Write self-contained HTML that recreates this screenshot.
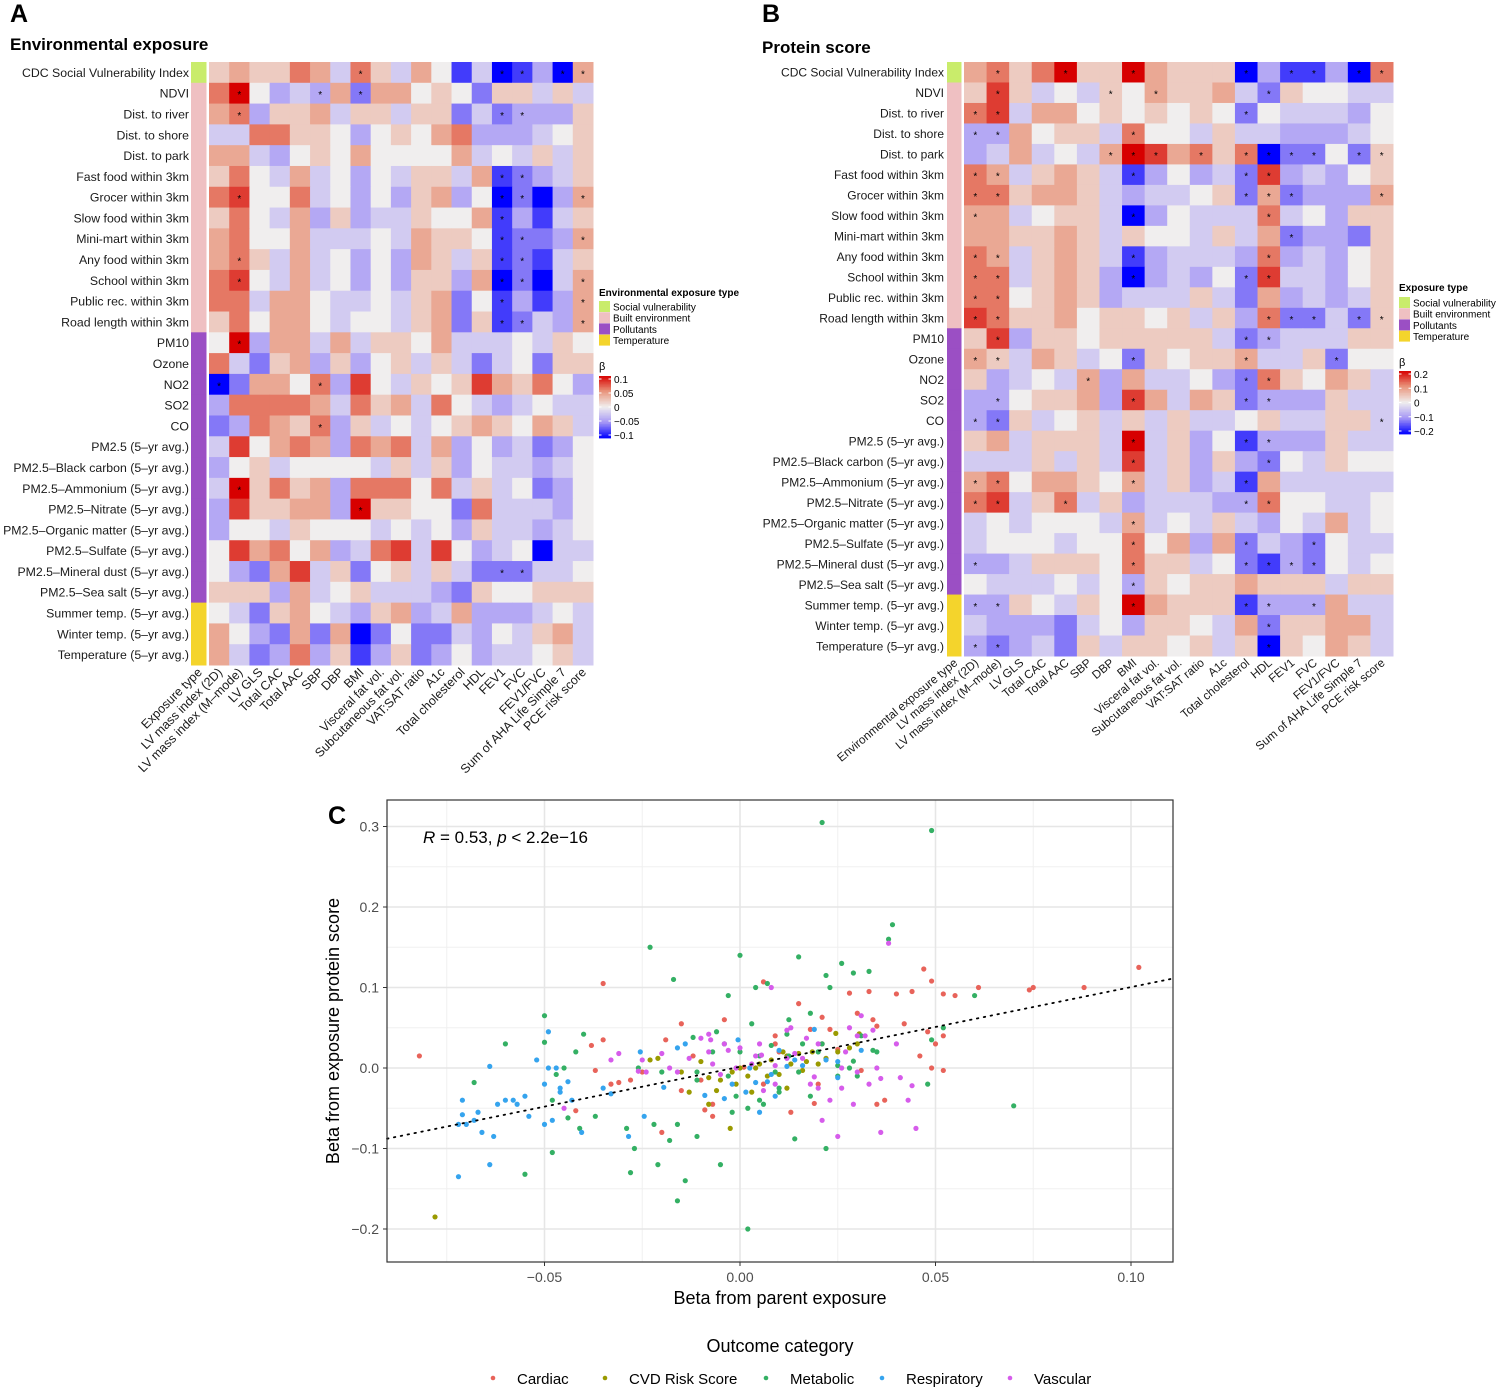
<!DOCTYPE html>
<html><head><meta charset="utf-8">
<style>
html,body{margin:0;padding:0;background:#fff;}
svg{display:block;font-family:"Liberation Sans",Arial,sans-serif;}
</style></head>
<body>
<svg id="fig" width="1500" height="1388" viewBox="0 0 1500 1388" xmlns="http://www.w3.org/2000/svg">
<text x="10" y="22" font-size="25" font-weight="bold">A</text>
<text x="10" y="50" font-size="17" font-weight="bold">Environmental exposure</text>
<text x="762" y="22" font-size="25" font-weight="bold">B</text>
<text x="762" y="53" font-size="17" font-weight="bold">Protein score</text>
<text x="328" y="824" font-size="25" font-weight="bold">C</text>
<g id="gA"></g>
<g id="gB"></g>
<g id="gC"></g>
</svg>
<script>
const rowLabels=["CDC Social Vulnerability Index","NDVI","Dist. to river","Dist. to shore","Dist. to park","Fast food within 3km","Grocer within 3km","Slow food within 3km","Mini-mart within 3km","Any food within 3km","School within 3km","Public rec. within 3km","Road length within 3km","PM10","Ozone","NO2","SO2","CO","PM2.5 (5\u2013yr avg.)","PM2.5\u2013Black carbon (5\u2013yr avg.)","PM2.5\u2013Ammonium (5\u2013yr avg.)","PM2.5\u2013Nitrate (5\u2013yr avg.)","PM2.5\u2013Organic matter (5\u2013yr avg.)","PM2.5\u2013Sulfate (5\u2013yr avg.)","PM2.5\u2013Mineral dust (5\u2013yr avg.)","PM2.5\u2013Sea salt (5\u2013yr avg.)","Summer temp. (5\u2013yr avg.)","Winter temp. (5\u2013yr avg.)","Temperature (5\u2013yr avg.)"];
const rowTypes=[0,1,1,1,1,1,1,1,1,1,1,1,1,2,2,2,2,2,2,2,2,2,2,2,2,2,3,3,3];
const colLabels=["LV mass index (2D)","LV mass index (M\u2013mode)","LV GLS","Total CAC","Total AAC","SBP","DBP","BMI","Visceral fat vol.","Subcutaneous fat vol.","VAT:SAT ratio","A1c","Total cholesterol","HDL","FEV1","FVC","FEV1/FVC","Sum of AHA Life Simple 7","PCE risk score"];
const typeNames=["Social vulnerability","Built environment","Pollutants","Temperature"];
const typeColors=["#c9ec6b","#efc0c2","#9b4fc4","#f4d42c"];
// effect levels (beta = level * step); "*" marks significance
const levelsA=[
"1 2 1 1 3 2 -1 3* 1 -1 2 0 -4 -1 -5* -4* -2 -5* 2*",
"3 5* 0 -2 -1 -2* 2 -3* 2 2 0 1 0 -3 1 1 -1 1 -1",
"2 3* -2 1 1 2 -1 1 1 -1 1 1 -3 -1 -3* -2* -2 -2 1",
"-1 -1 3 3 1 1 0 -2 0 1 0 2 3 -2 -2 -2 -1 0 1",
"2 2 -1 -2 0 1 0 2 0 0 0 0 2 -1 0 -1 1 -1 1",
"1 3 0 -1 2 -1 0 -2 0 -1 1 1 -1 2 -4* -3* -2 -1 1",
"3 4* 0 0 3 -1 0 -2 0 -2 1 2 -2 0 -5* -3* -5 -2 2*",
"1 3 0 -1 2 -2 1 -2 -1 -1 1 0 0 2 -4* -2 -4 -1 1",
"2 3 0 0 2 -1 -1 -1 0 -1 2 1 1 0 -4* -3* -3 -2 2*",
"2 3* 1 -1 2 -1 0 -2 0 -2 2 1 -1 1 -4* -3* -4 -1 1",
"3 4* 0 -1 2 -1 0 -2 0 -2 1 1 -2 2 -5* -3* -5 -1 2*",
"3 3 -1 2 2 0 -1 -1 0 -1 1 2 -3 0 -4* -2 -4 -2 2*",
"1 3 0 2 2 0 -1 0 0 -1 1 2 -3 1 -4* -3* -1 -2 2*",
"0 5* -2 2 2 -1 2 -1 1 1 0 2 -1 -1 -1 0 -1 1 0",
"3 -1 -3 1 2 -2 1 -2 0 1 -1 1 -1 -3 -1 0 -3 1 1",
"-5* -3 2 2 0 3* -2 4 0 -1 1 0 1 4 2 1 3 0 -2",
"-2 3 3 3 3 2 -1 3 1 2 -1 3 0 -1 -2 -1 0 -1 -1",
"-3 -2 3 2 1 3* -2 1 -1 0 -1 0 1 2 1 0 2 1 -1",
"-1 4 0 2 3 2 -2 3 2 3 -1 2 -2 0 -2 -1 -3 -2 0",
"-2 0 1 -1 0 0 0 0 -1 1 -1 1 -2 0 -1 -1 -2 -1 0",
"-1 5* 1 3 1 2 -2 3 3 3 0 3 -1 1 -1 0 -3 -2 0",
"-2 4 1 1 2 2 -2 5* 1 1 0 0 -3 3 -1 -1 -1 -2 0",
"-2 0 0 -1 1 0 0 0 -1 0 -1 0 -2 1 -1 -1 -2 -1 0",
"0 4 2 3 0 2 -2 -1 3 4 -1 4 0 -2 -1 0 -5 -1 -1",
"0 -2 -3 2 4 -1 1 -3 0 1 -1 1 -1 -3 -3* -3* -1 -1 0",
"1 1 1 -2 2 -1 0 1 -1 -1 -1 -2 -3 1 0 0 1 1 1",
"0 -1 -3 1 2 0 -1 -2 1 2 -2 -1 2 -2 -2 -2 -1 0 -1",
"2 0 -2 -3 2 -3 2 -5 -3 0 -3 -3 -1 -2 0 -1 1 2 -1",
"2 -1 -3 -2 3 -2 1 -4 -2 1 -3 -2 0 -2 -1 -1 0 1 -1"];
const levelsB=[
"2 3* 1 3 5* 1 1 5* 2 1 1 1 -5* -2 -4* -4* -2 -5* 3*",
"1 4* 1 -1 0 -1 1* 0 2* 1 1 2 -1 -3* 1 0 0 -1 -1",
"3* 4* -1 2 2 0 1 0 1 0 1 0 -3* 0 -1 -1 -1 -2 0",
"-2* -2* 2 0 1 1 -1 3* 0 0 -1 1 -1 -1 -2 -2 -2 -1 0",
"-2 -1 2 -1 0 -1 2* 5* 4* 2 3* 1 3* -5* -3* -3* 0 -3* 1*",
"3* 2* -1 1 2 1 -1 -4* -2 0 -2 -1 -3* 4* -2 -1 -2 0 1",
"3* 3* 1 2 2 1 -1 -2 -1 -1 0 1 -3* 2* -3* -2 -2 -2 2*",
"2* 2 -1 0 1 1 -1 -5* -2 0 -1 -1 -1 3* -1 0 -2 1 1",
"2 2 1 1 2 1 -1 1 0 0 -1 1 -1 2 -3* -2 -2 -3 1",
"3* 2* -1 1 2 1 -1 -4* -2 -1 -1 -1 -2 3* -2 -1 -2 0 1",
"3* 3* -1 1 2 1 -2 -5* -2 -1 -2 0 -3* 4* -1 -1 -2 0 1",
"3* 3* 0 1 2 1 -2 -1 -1 -1 1 -1 -3 2 -2 -1 -2 -1 1",
"4* 3* 1 1 2 0 1 1 0 1 -1 1 -2 3* -3* -3* -1 -3* 1*",
"1 4* -2 1 1 0 1 1 1 1 1 -1 -3* -2* -1 -1 -1 1 1",
"2* 1* -1 2 1 -1 0 -3* 1 0 1 1 2* -1 -1 1 -3* 0 0",
"1 -2 -1 0 -1 2* -2 2 -1 -1 0 -2 -3* 3* 1 0 2 1 -1",
"-2 -2* 0 1 1 2 -2 4* 2 -1 2 1 -3* -2* -2 -2 1 -1 -1",
"-2* -3* 1 -1 0 1 -1 1 -1 1 -1 -1 0 1 -1 -1 1 1 -1*",
"1 2 -1 1 1 1 -1 5* -1 1 -2 0 -4* -2* -2 -2 1 -1 -1",
"-1 -1 -1 1 -1 1 -1 4* -1 1 -2 1 -2 -3* 0 -1 1 0 0",
"2* 3* 0 2 2 1 0 2* -1 1 -2 -1 -4* 2 -1 -1 -1 -1 -1",
"3* 4* -1 1 3* -1 1 -2 -1 -1 -1 -2 -2* 3* 0 0 -1 -1 0",
"-1 0 -1 0 0 0 -1 2* -1 0 -1 1 -1 -2 0 -1 2 -1 0",
"-1 0 0 0 -1 0 0 3* 0 2 -2 2 -3* -1 -2 -3* 0 -1 -1",
"-2* -2 -1 1 1 1 0 3* 1 1 -1 0 -3* -4* -2* -3* 0 -1 0",
"0 -1 -1 -1 0 -1 0 -2* 1 0 1 1 2 1 1 1 -1 1 1",
"-2* -2* 1 0 -1 1 0 5* 2 1 1 1 -4* -2* -2 -2* 2 -1 -1",
"-1 -2 -2 -2 -3 -1 0 -2 1 1 0 -1 2 -3* 1 1 2 2 -1",
"-2* -3* -2 -1 -3 1 -1 1 1 0 1 -1 1 -5* 1 0 2 1 -1"];
const stepA=0.02, stepB=0.04;
const ticksA=[0.1,0.05,0,-0.05,-0.1], ticksB=[0.2,0.1,0,-0.1,-0.2];
const ticksAText=["0.1","0.05","0","\u22120.05","\u22120.1"], ticksBText=["0.2","0.1","0","\u22120.1","\u22120.2"];

const NS="http://www.w3.org/2000/svg";
function mk(parent,tag,attrs,txt){const e=document.createElementNS(NS,tag);for(const k in attrs)e.setAttribute(k,attrs[k]);if(txt!==undefined)e.textContent=txt;parent.appendChild(e);return e;}
function lerp(a,b,s){return [0,1,2].map(i=>a[i]+(b[i]-a[i])*s);}
function colorFor(t){ // t in [-1,1]
  const w=[240,238,238];let c;
  const s=Math.min(Math.abs(t),1);
  const mid=t>=0?[233,150,125]:[165,150,245], end=t>=0?[215,0,0]:[0,0,255];
  c=s<=0.5?lerp(w,mid,s/0.5):lerp(mid,end,(s-0.5)/0.5);
  return "rgb("+c.map(v=>Math.round(v)).join(",")+")";
}
function heatmap(g,cfg){
  const rows=cfg.levels.map(r=>r.trim().split(/\s+/));
  const nR=rows.length,nC=colLabels.length;
  const ch=(cfg.y1-cfg.y0)/nR, cw=(cfg.x1-cfg.x0)/nC;
  const maxB=cfg.step*5;
  const yS=i=>cfg.y0+i*ch, xS=j=>cfg.x0+j*cw;
  for(let i=0;i<nR;i++){
    const lab=mk(g,"text",{x:cfg.lx,y:yS(i)+ch/2+4.5,"font-size":cfg.fs,"text-anchor":"end",fill:"#1a1a1a"},rowLabels[i]);
    
    
    const tr=mk(g,"rect",{x:cfg.tx,y:yS(i),width:cfg.tw,height:ch+0.5,fill:typeColors[rowTypes[i]]});
    
    
    for(let j=0;j<nC;j++){
      const s=rows[i][j];const star=s.indexOf("*")>=0;const beta=parseFloat(s)*cfg.step;
      const r=mk(g,"rect",{x:xS(j),y:yS(i),width:cw+0.5,height:ch+0.5,fill:colorFor(beta/maxB)});
      
      
      if(star){const st=mk(g,"text",{x:xS(j)+cw/2,y:yS(i)+ch/2+5,"font-size":10,"text-anchor":"middle",fill:"#000"},"*");
        
        }
    }
  }
  const allCols=[cfg.firstCol].concat(colLabels);
  for(let j=0;j<allCols.length;j++){
    const cx=j===0?cfg.tx+cfg.tw/2:xS(j-1)+cw/2;
    const t=mk(g,"text",{transform:"translate("+(cx+4)+","+(cfg.y1+8)+") rotate("+cfg.rot+")","font-size":cfg.cfs,"text-anchor":"end",fill:"#1a1a1a"},allCols[j]);
    
    
  }
  const L=cfg.leg;
  const lt=mk(g,"text",{x:L.x,y:L.ty,"font-size":10,"font-weight":"bold"},cfg.legTitle);
  
  
  for(let k=0;k<4;k++){
    const sq=mk(g,"rect",{x:L.x,y:L.sy+k*11.2,width:11,height:11,fill:typeColors[k]});
    
    
    const tx=mk(g,"text",{x:L.x+14,y:L.sy+k*11.2+9.5,"font-size":10},typeNames[k]);
    
    
  }
  const bt=mk(g,"text",{x:L.x,y:L.by,"font-size":11},"\u03b2");
  
  
  const N=40;
  for(let k=0;k<N;k++){
    const v=1-2*(k+0.5)/N;
    mk(g,"rect",{x:L.x,y:L.cy0+k*(L.cy1-L.cy0)/N,width:12,height:(L.cy1-L.cy0)/N+0.4,fill:colorFor(v)});
  }
  const cyS=v=>L.cy0+3+(maxB-v)/(2*maxB)*(L.cy1-L.cy0-6);
  cfg.ticks.forEach((v,k)=>{
    mk(g,"line",{x1:L.x,x2:L.x+2.5,y1:cyS(v),y2:cyS(v),stroke:"#fff","stroke-width":1});
    mk(g,"line",{x1:L.x+9.5,x2:L.x+12,y1:cyS(v),y2:cyS(v),stroke:"#fff","stroke-width":1});
    const tt=mk(g,"text",{x:L.x+15,y:cyS(v)+4,"font-size":10},cfg.tickText[k]);
    
    
  });
}
heatmap(document.getElementById("gA"),{levels:levelsA,step:stepA,x0:209,x1:593,y0:62,y1:665,tx:191,tw:15.5,lx:189,fs:12.3,cfs:12.5,rot:-45,firstCol:"Exposure type",
  legTitle:"Environmental exposure type",leg:{x:599,ty:296,sy:301,by:370,cy0:376,cy1:438},ticks:ticksA,tickText:ticksAText});
heatmap(document.getElementById("gB"),{levels:levelsB,step:stepB,x0:964,x1:1393,y0:62,y1:656,tx:947,tw:14.5,lx:944,fs:12,cfs:11.8,rot:-40,firstCol:"Environmental exposure type",
  legTitle:"Exposure type",leg:{x:1399,ty:291,sy:297,by:366,cy0:371,cy1:434},ticks:ticksB,tickText:ticksBText});

// ---------- Scatter C ----------
const catNames=["Cardiac","CVD Risk Score","Metabolic","Respiratory","Vascular"];
const catColors=["#E8635A","#9A9A00","#34B064","#35A4EE","#D65CEB"];
const cardiacX=[-0.082,-0.035,0.102,0.088,0.075,0.061,0.047,0.049,0.055,0.052,0.044,0.040,0.033,0.034,0.035,0.042,0.048,0.050,0.052,0.046,0.052,0.049,0.031,0.030,0.028,0.021,0.023,0.015,0.006,0.018,0.025,0.021,0.009,-0.004,0.010,0.020,0.019,0.037,0.035,0.001,-0.015,-0.019,-0.012,-0.010,-0.009,-0.007,-0.007,-0.020,-0.025,-0.028,-0.031,-0.033,-0.037,-0.042,0.006,0.013,0.009,-0.015,-0.035,-0.038,0.074];
const cardiacY=[0.015,0.105,0.125,0.100,0.100,0.100,0.123,0.108,0.090,0.092,0.095,0.092,0.095,0.060,0.052,0.055,0.045,0.030,0.040,0.015,-0.003,0.000,-0.003,0.068,0.093,0.063,0.048,0.080,0.107,0.048,0.023,0.030,0.040,0.060,0.020,-0.020,-0.044,-0.040,-0.045,0.001,0.055,0.035,0.015,-0.015,-0.052,-0.060,-0.045,-0.080,-0.005,-0.015,-0.018,-0.020,-0.003,-0.053,-0.020,-0.055,0.030,-0.028,0.035,0.028,0.097];
const cvdX=[-0.078,-0.023,-0.015,-0.005,-0.002,0.002,0.005,0.008,0.010,0.012,0.015,0.017,0.020,0.022,0.025,0.028,0.030,-0.010,-0.008,-0.0025,-0.013,0.003,-0.008,0.000,0.0245,0.0305,-0.021,0.004,0.011,-0.001,0.007,0.013,0.016,0.0185,0.012,-0.006];
const cvdY=[-0.185,0.010,-0.005,-0.015,-0.005,-0.010,0.005,0.010,-0.008,0.015,0.018,0.008,0.005,0.012,0.020,0.025,0.030,0.008,-0.045,-0.075,-0.030,-0.030,-0.012,0.000,0.043,0.0425,0.012,0.000,0.020,-0.020,-0.010,0.005,-0.003,0.020,-0.025,-0.028];
const metabX=[0.021,0.049,0.039,0.038,-0.023,-0.017,0.000,0.015,0.022,0.026,0.029,0.033,0.023,0.018,0.007,0.004,-0.003,0.049,0.052,0.060,-0.050,-0.040,-0.050,-0.060,-0.045,-0.042,-0.047,-0.068,-0.048,-0.048,-0.055,-0.044,-0.041,-0.037,-0.029,-0.022,-0.027,-0.028,-0.021,-0.014,-0.016,0.002,-0.005,-0.011,-0.016,-0.011,-0.011,-0.002,0.002,-0.003,0.000,0.005,0.009,0.015,0.020,0.025,0.031,0.028,0.035,0.010,0.005,0.014,0.006,-0.004,-0.007,0.022,0.010,0.021,0.030,0.070,0.048,-0.026,-0.012,-0.006,0.003,0.012,-0.020,0.018,0.016,0.025,-0.018,-0.001,0.008,0.0125,0.034,0.0125,0.029];
const metabY=[0.305,0.295,0.178,0.160,0.150,0.110,0.140,0.138,0.115,0.130,0.118,0.120,0.100,0.068,0.105,0.100,0.090,0.035,0.050,0.090,0.065,0.042,0.032,0.030,0.000,0.020,-0.008,-0.018,-0.040,-0.105,-0.132,-0.062,-0.075,-0.060,-0.075,-0.070,-0.100,-0.130,-0.120,-0.140,-0.165,-0.200,-0.120,-0.085,-0.070,-0.015,-0.005,-0.055,-0.050,-0.010,0.020,0.015,-0.005,-0.005,0.020,-0.010,0.040,0.000,0.020,-0.025,-0.040,-0.088,-0.045,0.030,0.020,-0.100,-0.030,0.030,-0.010,-0.047,-0.020,0.000,0.038,0.045,0.055,0.042,-0.005,-0.035,0.030,0.003,-0.090,-0.035,0.028,0.015,0.022,0.060,0.0085];
const respX=[-0.072,-0.064,-0.070,-0.068,-0.066,-0.060,-0.058,-0.062,-0.057,-0.071,-0.071,-0.067,-0.072,-0.054,-0.048,-0.050,-0.050,-0.049,-0.046,-0.044,-0.046,-0.055,-0.063,-0.052,-0.064,-0.043,-0.0405,-0.0285,-0.0245,-0.0255,-0.033,-0.047,-0.049,-0.035,-0.0195,-0.016,-0.014,-0.009,-0.004,-0.002,0.004,0.007,0.008,0.012,0.016,0.0015,0.022,0.0025,0.010,0.019,0.025,-0.0005,0.014,0.025,0.005,0.009,0.031];
const respY=[-0.135,-0.120,-0.070,-0.065,-0.080,-0.040,-0.040,-0.045,-0.045,-0.040,-0.058,-0.055,-0.070,-0.060,-0.065,-0.070,-0.020,0.000,-0.025,-0.017,-0.030,-0.035,-0.085,0.010,0.002,-0.040,-0.080,-0.085,-0.060,0.020,-0.032,0.000,0.045,-0.025,-0.024,0.025,0.030,-0.034,-0.038,-0.020,-0.018,-0.017,-0.008,0.002,0.003,-0.030,0.010,0.000,0.022,0.048,0.008,0.035,0.010,-0.012,-0.055,-0.035,0.022];
const vascX=[0.038,0.031,0.028,0.030,0.027,0.032,0.034,0.040,0.036,0.035,0.030,0.019,0.008,0.013,0.012,0.004,0.009,0.018,0.020,0.014,0.009,0.006,0.023,0.026,0.029,0.033,0.036,0.021,0.025,0.041,0.044,0.043,0.045,0.026,0.016,-0.004,-0.008,-0.010,-0.003,0.000,0.005,0.012,-0.013,-0.020,-0.024,-0.026,-0.016,-0.008,-0.007,-0.001,-0.005,-0.018,-0.0075,0.003,-0.025,-0.045,-0.033,-0.031,0.020,0.0055,0.017];
const vascY=[0.155,0.065,0.050,0.040,0.020,0.040,0.047,0.030,-0.013,0.000,-0.005,-0.011,0.100,0.050,0.047,0.015,0.003,-0.020,-0.025,0.018,-0.020,-0.028,-0.040,-0.025,-0.045,-0.020,-0.080,-0.065,-0.085,-0.012,-0.022,-0.040,-0.075,0.000,0.012,0.030,0.042,0.037,0.022,0.025,0.030,0.012,0.012,0.018,-0.005,-0.004,-0.005,0.020,0.005,0.000,-0.008,0.000,0.035,0.005,0.010,-0.050,0.010,0.018,0.030,0.016,0.037];
const seriesX=[cardiacX,cvdX,metabX,respX,vascX];
const seriesY=[cardiacY,cvdY,metabY,respY,vascY];
const xTicks=[-0.05,0.00,0.05,0.10], xTickText=["\u22120.05","0.00","0.05","0.10"];
const yTicks=[0.3,0.2,0.1,0.0,-0.1,-0.2], yTickText=["0.3","0.2","0.1","0.0","\u22120.1","\u22120.2"];
const fitIntercept=0.0015, fitSlope=0.99;

(function(){
  const g=document.getElementById("gC");
  const L=387,R=1173,T=800,B=1262;
  const xS=v=>740+v*3910, yS=v=>1068-v*805;
  const xMin=(L-740)/3910, xMax=(R-740)/3910;
  const pb=mk(g,"rect",{x:L,y:T,width:R-L,height:B-T,fill:"#fff"});
  
  
  for(let v=-0.075;v<=0.125;v+=0.05){const x=xS(v);if(x>L&&x<R)mk(g,"line",{x1:x,x2:x,y1:T,y2:B,stroke:"#f0f0f0","stroke-width":1});}
  for(let v=-0.25;v<=0.35;v+=0.1){const y=yS(v);if(y>T&&y<B)mk(g,"line",{x1:L,x2:R,y1:y,y2:y,stroke:"#f0f0f0","stroke-width":1});}
  xTicks.forEach((v,k)=>{const x=xS(v);
    const gl=mk(g,"line",{x1:x,x2:x,y1:T,y2:B,stroke:"#e6e6e6","stroke-width":1.6});
    
    
    mk(g,"line",{x1:x,x2:x,y1:B,y2:B+4,stroke:"#333"});
    const t=mk(g,"text",{x:x,y:B+20,"font-size":14,"text-anchor":"middle",fill:"#4d4d4d"},xTickText[k]);
    
    });
  yTicks.forEach((v,k)=>{const y=yS(v);
    const gl=mk(g,"line",{x1:L,x2:R,y1:y,y2:y,stroke:"#e6e6e6","stroke-width":1.6});
    
    
    mk(g,"line",{x1:L-4,x2:L,y1:y,y2:y,stroke:"#333"});
    const t=mk(g,"text",{x:L-8,y:y+5,"font-size":14,"text-anchor":"end",fill:"#4d4d4d"},yTickText[k]);
    
    });
  seriesX.forEach((xs,s)=>{xs.forEach((xv,i)=>{
    const c=mk(g,"circle",{cx:xS(xv),cy:yS(seriesY[s][i]),r:2.6,fill:catColors[s]});
    
    
  });});
  const fl=mk(g,"line",{x1:xS(xMin),y1:yS(fitIntercept+fitSlope*xMin),x2:xS(xMax),y2:yS(fitIntercept+fitSlope*xMax),stroke:"#000","stroke-width":1.8,"stroke-dasharray":"1.5 5.5","stroke-linecap":"round"});
  
  
  const bd=mk(g,"rect",{x:L,y:T,width:R-L,height:B-T,fill:"none",stroke:"#333","stroke-width":1.2});
  
  
  const st=mk(g,"text",{x:423,y:843,"font-size":17});
  
  
  st.innerHTML='<tspan font-style="italic">R</tspan> = 0.53, <tspan font-style="italic">p</tspan> &lt; 2.2e\u221216';
  const xt=mk(g,"text",{x:780,y:1304,"font-size":18,"text-anchor":"middle"},"Beta from parent exposure");
  
  
  const yt=mk(g,"text",{transform:"translate(339,1031) rotate(-90)","font-size":18,"text-anchor":"middle"},"Beta from exposure protein score");
  
  
  const lt=mk(g,"text",{x:780,y:1352,"font-size":18,"text-anchor":"middle"},"Outcome category");
  
  
  const lx=[493,605,766,882,1010];
  catNames.forEach((n,k)=>{
    const d=mk(g,"circle",{cx:lx[k],cy:1378,r:2.3,fill:catColors[k]});
    
    
    const t=mk(g,"text",{x:lx[k]+24,y:1384,"font-size":15},n);
    
    
  });
})();
</script>
</body></html>
